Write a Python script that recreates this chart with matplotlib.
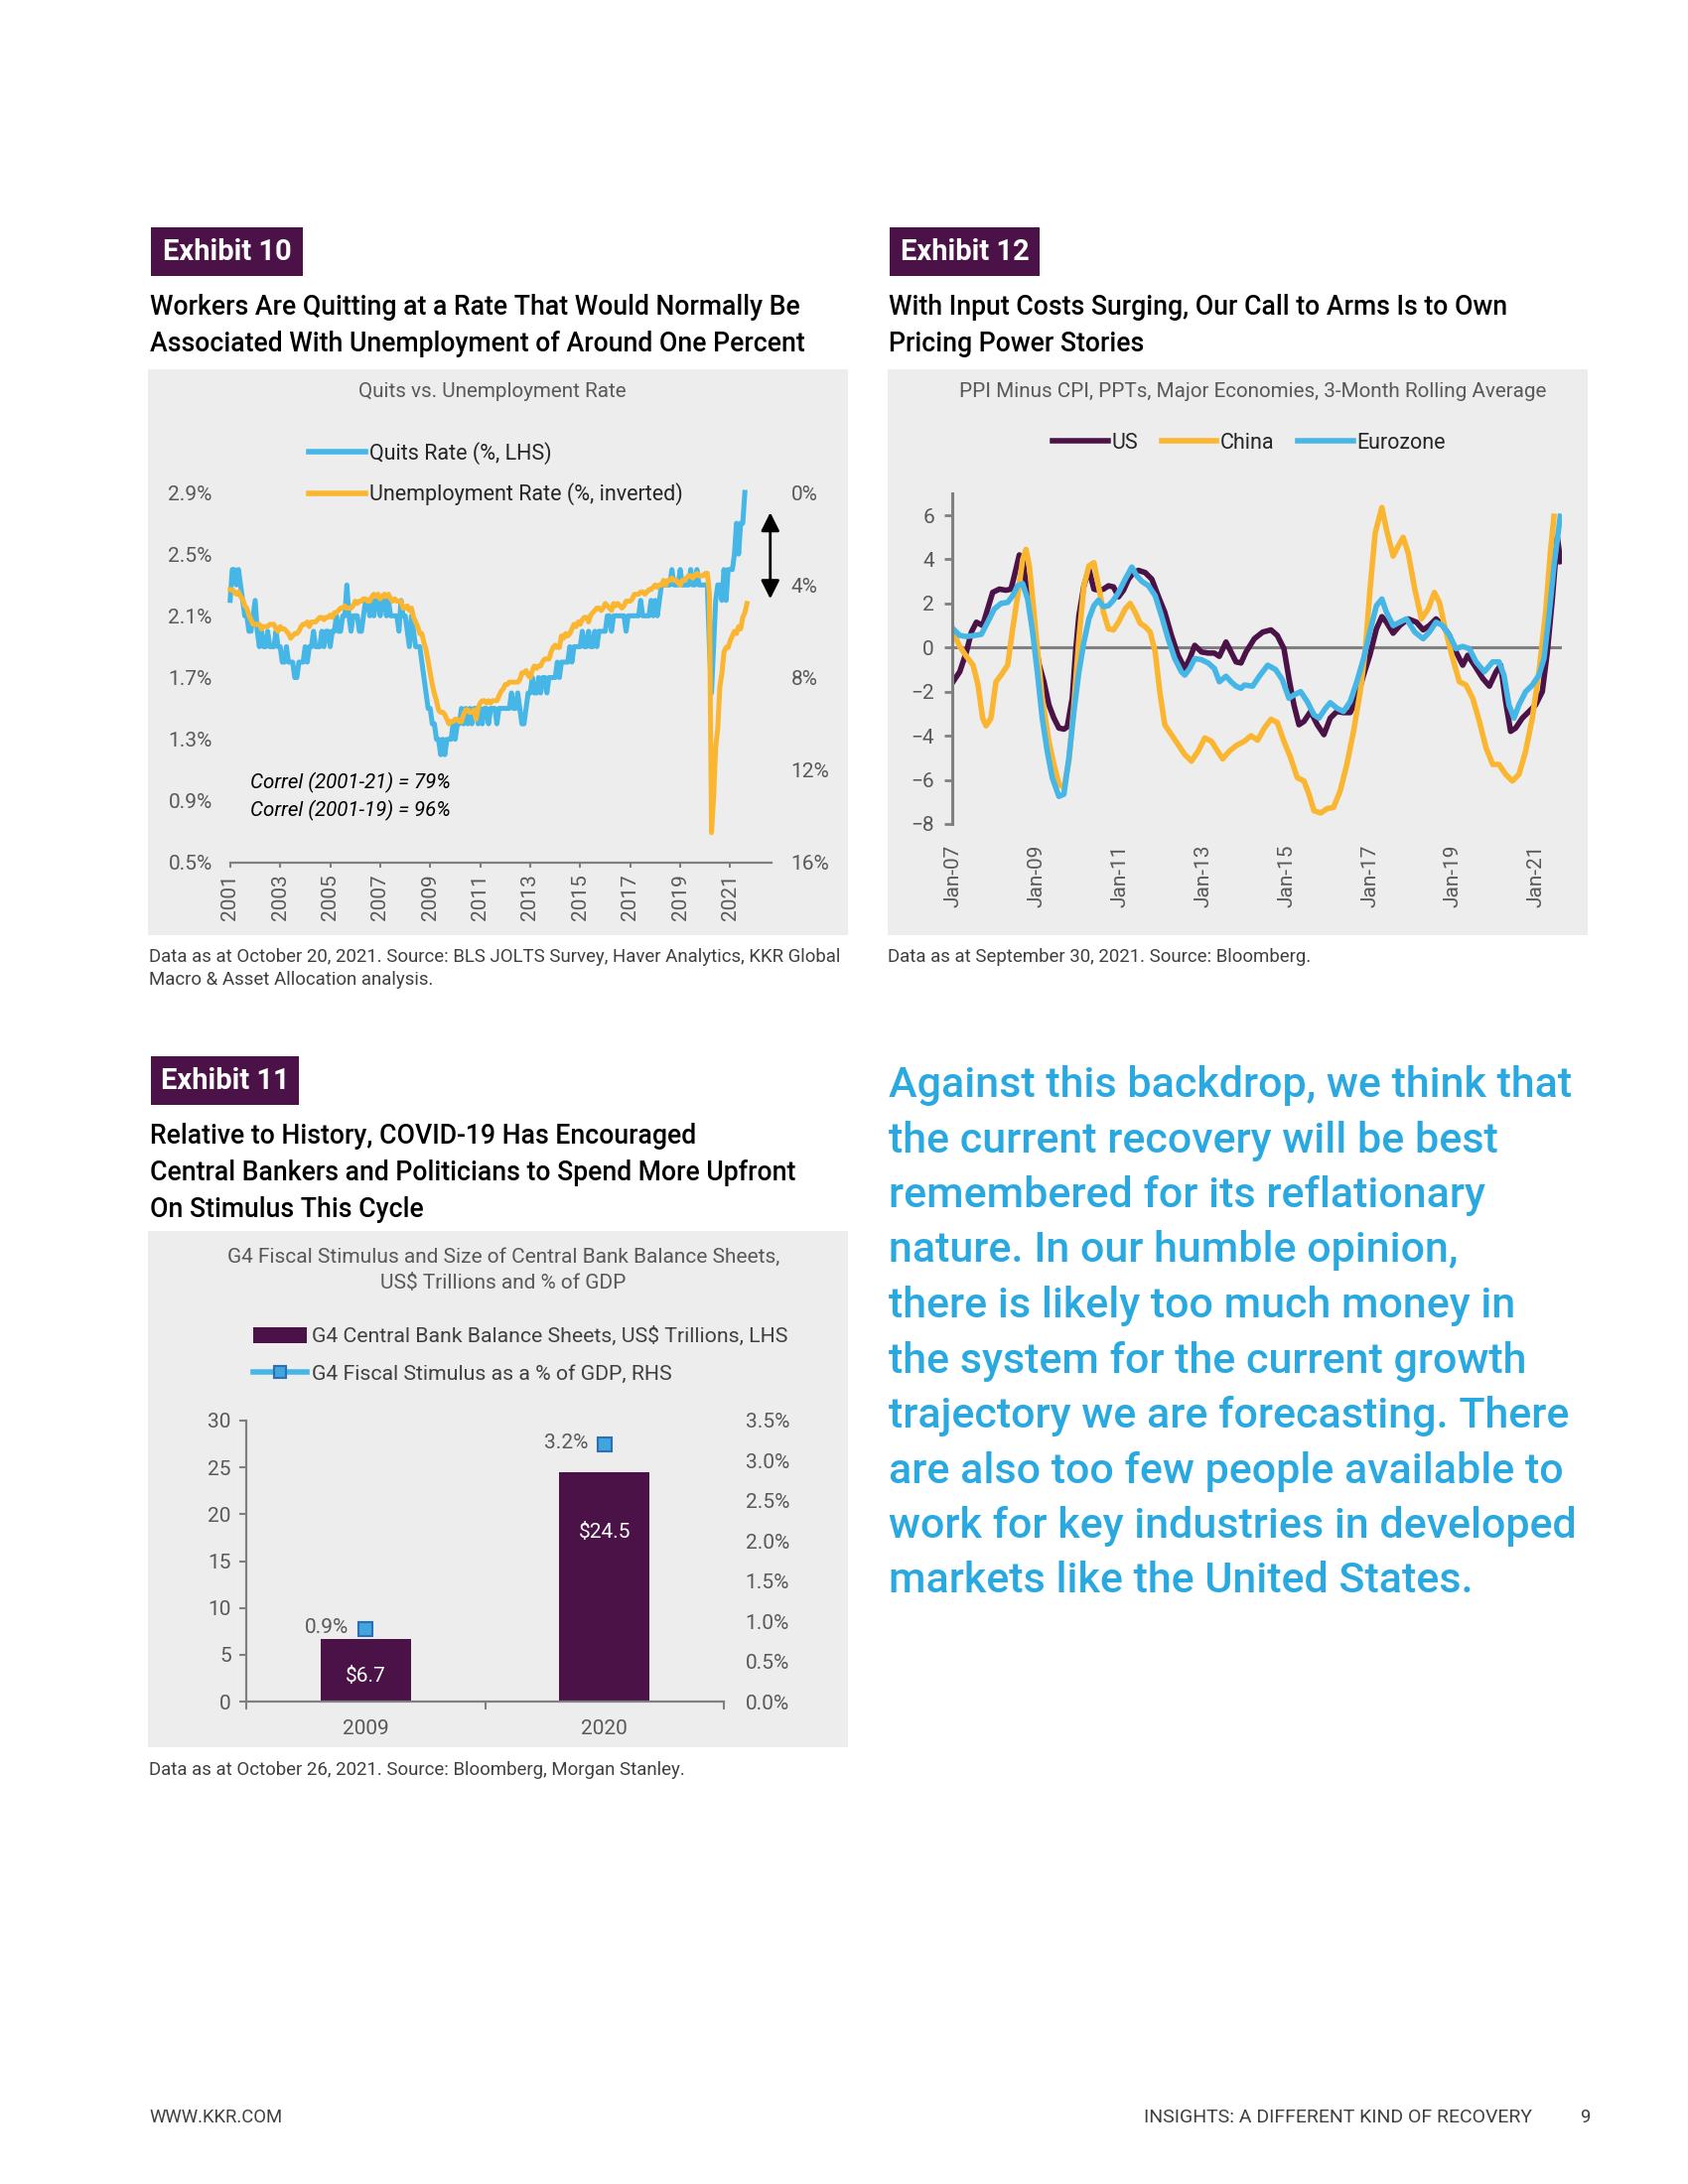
"""KKR Insights page 9: Exhibits 10, 11 and 12."""

import numpy as np
import matplotlib
matplotlib.use("Agg")
import matplotlib.pyplot as plt
from matplotlib.patches import Rectangle, Patch
from matplotlib.lines import Line2D

plt.rcParams["font.family"] = ["Roboto", "DejaVu Sans"]

W, H = 1700, 2200
PURPLE = "#4a1246"
BLUE = "#45b6e6"
ORANGE = "#fbb631"
PANEL = "#ededed"
AXIS_GRAY = "#808080"
TICK_GRAY = "#595959"
TEXT_BLUE = "#2aa9e0"
DARK = "#262626"

# ---------------- Exhibit 10: quits vs unemployment (monthly, Jan-2001 on)
quits_rate = [
    2.2, 2.4, 2.4, 2.3, 2.4, 2.3, 2.2, 2.1, 2.1, 2.0, 2.0, 2.1,
    2.2, 2.0, 1.9, 2.0, 1.9, 1.9, 2.0, 1.9, 1.9, 1.9, 2.0, 1.9,
    1.9, 1.8, 1.8, 1.9, 1.8, 1.8, 1.8, 1.7, 1.7, 1.8, 1.8, 1.8,
    1.9, 1.8, 1.9, 1.9, 2.0, 1.9, 1.9, 1.9, 2.0, 1.9, 2.0, 2.0,
    1.9, 2.0, 2.0, 2.1, 2.0, 2.0, 2.1, 2.1, 2.3, 2.1, 2.0, 2.1,
    2.1, 2.1, 2.0, 2.0, 2.1, 2.2, 2.2, 2.1, 2.2, 2.1, 2.2, 2.2,
    2.1, 2.2, 2.2, 2.1, 2.2, 2.1, 2.1, 2.1, 2.1, 2.0, 2.2, 2.1,
    2.1, 2.0, 1.9, 2.1, 2.0, 1.9, 1.9, 1.9, 1.8, 1.7, 1.6, 1.5,
    1.5, 1.4, 1.4, 1.3, 1.3, 1.2, 1.3, 1.2, 1.3, 1.3, 1.3, 1.4,
    1.3, 1.4, 1.4, 1.5, 1.4, 1.5, 1.4, 1.5, 1.4, 1.5, 1.5, 1.4,
    1.5, 1.4, 1.5, 1.5, 1.4, 1.5, 1.5, 1.5, 1.4, 1.5, 1.5, 1.5,
    1.5, 1.5, 1.5, 1.6, 1.5, 1.5, 1.6, 1.5, 1.4, 1.4, 1.5, 1.6,
    1.6, 1.7, 1.6, 1.6, 1.7, 1.6, 1.7, 1.7, 1.6, 1.7, 1.7, 1.7,
    1.7, 1.8, 1.7, 1.8, 1.8, 1.8, 1.8, 1.9, 1.8, 1.9, 1.9, 1.9,
    1.9, 2.0, 1.9, 1.9, 2.0, 1.9, 1.9, 2.0, 1.9, 2.0, 2.0, 2.0,
    2.0, 2.1, 2.1, 2.0, 2.1, 2.1, 2.1, 2.1, 2.1, 2.1, 2.0, 2.1,
    2.1, 2.1, 2.1, 2.1, 2.1, 2.2, 2.1, 2.1, 2.1, 2.1, 2.2, 2.1,
    2.2, 2.1, 2.2, 2.3, 2.3, 2.3, 2.3, 2.3, 2.4, 2.3, 2.3, 2.3,
    2.4, 2.3, 2.3, 2.3, 2.3, 2.4, 2.3, 2.3, 2.4, 2.3, 2.3, 2.3,
    2.3, 2.3, 1.9, 1.6, 1.9, 2.2, 2.3, 2.3, 2.2, 2.4, 2.2, 2.4,
    2.4, 2.4, 2.5, 2.7, 2.5, 2.7, 2.7, 2.9,
]
unemployment_rate = [
    4.2, 4.2, 4.3, 4.4, 4.3, 4.5, 4.6, 4.9, 5.0, 5.3, 5.5, 5.7,
    5.7, 5.7, 5.7, 5.9, 5.8, 5.8, 5.8, 5.7, 5.7, 5.7, 5.9, 6.0,
    5.8, 5.9, 5.9, 6.0, 6.1, 6.3, 6.2, 6.1, 6.1, 6.0, 5.8, 5.7,
    5.7, 5.6, 5.8, 5.6, 5.6, 5.6, 5.5, 5.4, 5.4, 5.5, 5.4, 5.4,
    5.3, 5.4, 5.2, 5.2, 5.1, 5.0, 5.0, 4.9, 5.0, 5.0, 5.0, 4.9,
    4.7, 4.8, 4.7, 4.7, 4.6, 4.6, 4.7, 4.7, 4.5, 4.4, 4.5, 4.4,
    4.6, 4.5, 4.4, 4.5, 4.4, 4.6, 4.7, 4.6, 4.7, 4.7, 4.7, 5.0,
    5.0, 4.9, 5.1, 5.0, 5.4, 5.6, 5.8, 6.1, 6.1, 6.5, 6.8, 7.3,
    7.8, 8.3, 8.7, 9.0, 9.4, 9.5, 9.5, 9.6, 9.8, 10.0, 9.9, 9.9,
    9.8, 9.8, 9.9, 9.9, 9.6, 9.4, 9.4, 9.5, 9.5, 9.4, 9.8, 9.3,
    9.1, 9.0, 9.0, 9.1, 9.0, 9.1, 9.0, 9.0, 9.0, 8.8, 8.6, 8.5,
    8.3, 8.3, 8.2, 8.2, 8.2, 8.2, 8.2, 8.1, 7.8, 7.8, 7.7, 7.9,
    8.0, 7.7, 7.5, 7.6, 7.5, 7.5, 7.3, 7.2, 7.2, 7.2, 6.9, 6.7,
    6.6, 6.7, 6.7, 6.2, 6.3, 6.1, 6.2, 6.1, 5.9, 5.7, 5.8, 5.6,
    5.7, 5.5, 5.4, 5.4, 5.6, 5.3, 5.2, 5.1, 5.0, 5.0, 5.1, 5.0,
    4.8, 4.9, 5.0, 5.1, 4.8, 4.9, 4.8, 4.9, 5.0, 4.9, 4.7, 4.7,
    4.7, 4.6, 4.4, 4.4, 4.4, 4.3, 4.3, 4.4, 4.3, 4.2, 4.2, 4.1,
    4.0, 4.1, 4.0, 4.0, 3.8, 4.0, 3.8, 3.8, 3.7, 3.8, 3.8, 3.9,
    4.0, 3.8, 3.8, 3.7, 3.6, 3.6, 3.7, 3.6, 3.5, 3.6, 3.6, 3.6,
    3.5, 3.5, 4.4, 14.7, 13.2, 11.0, 10.2, 8.4, 7.8, 6.9, 6.7, 6.7,
    6.4, 6.2, 6.0, 6.1, 5.8, 5.9, 5.4, 5.2, 4.8,
]
quits_ticks = [0.5, 0.9, 1.3, 1.7, 2.1, 2.5, 2.9]
unemp_ticks = [0, 4, 8, 12, 16]
year_ticks = list(range(2001, 2022, 2))

# ---------------- Exhibit 12: PPI minus CPI, ppts (decimal year, value)
us_ppi_cpi = [
    (2007.00, -1.55), (2007.16, -1.1), (2007.32, -0.2), (2007.44, 0.7), (2007.56, 1.15),
    (2007.71, 1.0), (2007.83, 1.75), (2007.95, 2.5), (2008.11, 2.65), (2008.27, 2.6),
    (2008.39, 2.65), (2008.47, 3.25), (2008.59, 4.2), (2008.67, 4.0), (2008.75, 2.95),
    (2008.83, 1.9), (2008.95, 0.4), (2009.07, -0.8), (2009.18, -1.55), (2009.30, -2.6),
    (2009.42, -3.2), (2009.54, -3.65), (2009.66, -3.7), (2009.74, -3.6), (2009.86, -2.3),
    (2009.94, -0.2), (2010.02, 1.45), (2010.14, 2.8), (2010.26, 3.55), (2010.38, 2.65),
    (2010.49, 2.6), (2010.61, 2.65), (2010.73, 2.8), (2010.85, 2.75), (2010.97, 2.3),
    (2011.09, 2.6), (2011.21, 3.1), (2011.33, 3.4), (2011.45, 3.5), (2011.61, 3.4),
    (2011.77, 3.1), (2011.92, 2.35), (2012.08, 1.6), (2012.24, 0.55), (2012.40, -0.35),
    (2012.56, -0.95), (2012.68, -0.5), (2012.80, 0.1), (2012.96, -0.2), (2013.12, -0.25),
    (2013.27, -0.25), (2013.39, -0.4), (2013.55, 0.25), (2013.67, -0.2), (2013.79, -0.65),
    (2013.91, -0.7), (2014.03, -0.2), (2014.23, 0.4), (2014.43, 0.7), (2014.63, 0.8),
    (2014.78, 0.55), (2014.94, -0.05), (2015.06, -1.4), (2015.18, -2.6), (2015.30, -3.5),
    (2015.42, -3.35), (2015.58, -2.9), (2015.74, -3.5), (2015.90, -3.95), (2016.05, -3.2),
    (2016.21, -2.9), (2016.37, -2.95), (2016.53, -2.95), (2016.69, -2.3), (2016.85, -1.25),
    (2017.00, -0.35), (2017.16, 0.85), (2017.29, 1.4), (2017.40, 1.15), (2017.56, 0.65),
    (2017.72, 1.0), (2017.92, 1.3), (2018.12, 1.15), (2018.28, 0.8), (2018.43, 1.0),
    (2018.59, 1.3), (2018.75, 1.0), (2018.91, 0.55), (2019.07, -0.2), (2019.23, -0.8),
    (2019.35, -0.35), (2019.51, -0.8), (2019.71, -1.4), (2019.87, -1.75), (2020.03, -1.1),
    (2020.14, -0.8), (2020.26, -2.45), (2020.38, -3.8), (2020.50, -3.65), (2020.66, -3.2),
    (2020.82, -2.9), (2020.98, -2.6), (2021.14, -2.0), (2021.26, -0.2), (2021.38, 2.2),
    (2021.50, 5.0), (2021.58, 3.9),
]
china_ppi_cpi = [
    (2007.00, 0.7), (2007.16, 0.05), (2007.32, -0.4), (2007.48, -0.8), (2007.60, -1.7),
    (2007.71, -3.2), (2007.79, -3.55), (2007.91, -3.2), (2008.03, -1.55), (2008.15, -1.25),
    (2008.31, -0.8), (2008.43, 0.85), (2008.55, 2.35), (2008.67, 4.0), (2008.75, 4.45),
    (2008.83, 3.7), (2008.91, 2.2), (2009.03, -0.2), (2009.14, -2.3), (2009.30, -4.25),
    (2009.42, -5.3), (2009.54, -6.2), (2009.66, -6.35), (2009.78, -5.15), (2009.90, -2.6),
    (2010.02, 0.4), (2010.14, 2.8), (2010.26, 3.7), (2010.38, 3.85), (2010.49, 2.8),
    (2010.61, 1.6), (2010.73, 0.85), (2010.85, 0.8), (2010.97, 1.15), (2011.13, 1.75),
    (2011.25, 2.0), (2011.37, 1.6), (2011.49, 1.1), (2011.61, 0.95), (2011.73, 0.7),
    (2011.85, -0.2), (2011.96, -2.0), (2012.08, -3.5), (2012.24, -3.95), (2012.40, -4.4),
    (2012.56, -4.85), (2012.72, -5.15), (2012.88, -4.7), (2013.04, -4.1), (2013.20, -4.25),
    (2013.35, -4.7), (2013.47, -5.05), (2013.63, -4.7), (2013.79, -4.45), (2013.99, -4.25),
    (2014.15, -4.0), (2014.31, -4.2), (2014.47, -3.65), (2014.63, -3.25), (2014.78, -3.4),
    (2014.94, -4.25), (2015.10, -5.0), (2015.26, -5.9), (2015.42, -6.05), (2015.54, -6.65),
    (2015.66, -7.4), (2015.82, -7.5), (2015.98, -7.3), (2016.13, -7.25), (2016.29, -6.5),
    (2016.45, -5.3), (2016.61, -3.8), (2016.77, -2.0), (2016.89, -0.2), (2017.00, 2.5),
    (2017.13, 5.2), (2017.29, 6.35), (2017.40, 5.35), (2017.56, 4.15), (2017.68, 4.6),
    (2017.80, 5.0), (2017.92, 4.3), (2018.08, 2.65), (2018.24, 1.3), (2018.40, 1.75),
    (2018.55, 2.5), (2018.67, 2.05), (2018.83, 0.7), (2018.99, -0.5), (2019.15, -1.55),
    (2019.31, -1.7), (2019.47, -2.3), (2019.63, -3.35), (2019.79, -4.55), (2019.95, -5.3),
    (2020.10, -5.3), (2020.26, -5.75), (2020.42, -6.05), (2020.58, -5.75), (2020.74, -4.7),
    (2020.90, -3.2), (2021.06, -1.1), (2021.22, 1.6), (2021.34, 4.45), (2021.42, 5.95),
]
eurozone_ppi_cpi = [
    (2007.00, 0.85), (2007.16, 0.55), (2007.32, 0.5), (2007.52, 0.55), (2007.68, 0.6),
    (2007.83, 1.15), (2007.99, 1.75), (2008.15, 2.0), (2008.31, 2.05), (2008.43, 2.35),
    (2008.55, 2.8), (2008.67, 2.9), (2008.79, 2.2), (2008.91, 0.7), (2009.03, -1.25),
    (2009.14, -3.2), (2009.26, -4.7), (2009.38, -5.9), (2009.54, -6.75), (2009.66, -6.65),
    (2009.78, -5.0), (2009.90, -2.9), (2010.02, -1.1), (2010.14, 0.25), (2010.26, 1.3),
    (2010.38, 1.9), (2010.49, 2.15), (2010.61, 1.85), (2010.73, 1.9), (2010.85, 2.15),
    (2010.97, 2.5), (2011.13, 3.1), (2011.29, 3.65), (2011.41, 3.25), (2011.53, 3.0),
    (2011.69, 2.8), (2011.85, 2.35), (2012.00, 1.45), (2012.16, 0.4), (2012.32, -0.5),
    (2012.48, -1.1), (2012.56, -1.25), (2012.68, -0.95), (2012.80, -0.5), (2012.96, -0.55),
    (2013.12, -0.7), (2013.27, -0.95), (2013.39, -1.55), (2013.55, -1.3), (2013.67, -1.55),
    (2013.79, -1.75), (2013.91, -1.85), (2013.99, -1.7), (2014.19, -1.75), (2014.35, -1.3),
    (2014.55, -0.8), (2014.74, -1.0), (2014.90, -1.45), (2015.06, -2.3), (2015.18, -2.15),
    (2015.34, -2.0), (2015.50, -2.45), (2015.66, -3.05), (2015.78, -3.2), (2015.94, -2.75),
    (2016.05, -2.5), (2016.21, -2.75), (2016.37, -2.9), (2016.53, -2.45), (2016.69, -1.55),
    (2016.85, -0.5), (2017.00, 0.7), (2017.16, 1.9), (2017.29, 2.2), (2017.40, 1.6),
    (2017.56, 1.0), (2017.72, 1.15), (2017.88, 1.3), (2018.08, 0.7), (2018.28, 0.4),
    (2018.43, 0.7), (2018.59, 1.15), (2018.75, 1.0), (2018.91, 0.55), (2019.07, -0.05),
    (2019.23, 0.05), (2019.39, -0.05), (2019.55, -0.65), (2019.75, -1.1), (2019.95, -0.65),
    (2020.10, -0.65), (2020.22, -1.25), (2020.34, -2.6), (2020.46, -3.2), (2020.58, -2.6),
    (2020.74, -2.0), (2020.90, -1.7), (2021.06, -1.25), (2021.18, -0.5), (2021.30, 1.45),
    (2021.42, 3.7), (2021.57, 5.95),
]
ppi_ticks = [-8, -6, -4, -2, 0, 2, 4, 6]
jan_ticks = list(range(2007, 2022, 2))

# ---------------- Exhibit 11: G4 stimulus
stim_years = ["2009", "2020"]
balance_sheets = [6.7, 24.5]          # US$ trillions, LHS
fiscal_stimulus = [0.9, 3.2]          # % of GDP, RHS
bs_ticks = [0, 5, 10, 15, 20, 25, 30]
fs_ticks = [0.0, 0.5, 1.0, 1.5, 2.0, 2.5, 3.0, 3.5]

body_lines = [
    "Against this backdrop, we think that",
    "the current recovery will be best",
    "remembered for its reflationary",
    "nature. In our humble opinion,",
    "there is likely too much money in",
    "the system for the current growth",
    "trajectory we are forecasting. There",
    "are also too few people available to",
    "work for key industries in developed",
    "markets like the United States.",
]


def fxy(x, y):
    return x / W, 1 - y / H


def axes_box(x0, ytop, x1, ybot):
    return [x0 / W, 1 - ybot / H, (x1 - x0) / W, (ybot - ytop) / H]


def page_rect(fig, x0, y0, x1, y1, color):
    fig.add_artist(Rectangle((x0 / W, 1 - y1 / H), (x1 - x0) / W, (y1 - y0) / H,
                             transform=fig.transFigure, facecolor=color,
                             edgecolor="none", zorder=-5))


def exhibit_header(fig, x0, y0, x1, label, title_lines, title_y0):
    page_rect(fig, x0, y0, x1, y0 + 49, PURPLE)
    fig.text(*fxy((x0 + x1) / 2, y0 + 25), label, color="white", fontsize=21,
             fontweight="bold", ha="center", va="center")
    for i, line in enumerate(title_lines):
        fig.text(*fxy(x0 - 1, title_y0 + 36.8 * i), line, color="black",
                 fontsize=19.2, fontweight="medium", ha="left", va="center")


def main():
    fig = plt.figure(figsize=(17, 22), dpi=100)
    fig.patch.set_facecolor("white")

    # ---------- page furniture
    exhibit_header(fig, 152, 229, 305, "Exhibit 10",
                   ["Workers Are Quitting at a Rate That Would Normally Be",
                    "Associated With Unemployment of Around One Percent"], 309.5)
    exhibit_header(fig, 896, 229, 1047, "Exhibit 12",
                   ["With Input Costs Surging, Our Call to Arms Is to Own",
                    "Pricing Power Stories"], 309.5)
    exhibit_header(fig, 152, 1064, 301, "Exhibit 11",
                   ["Relative to History, COVID-19 Has Encouraged",
                    "Central Bankers and Politicians to Spend More Upfront",
                    "On Stimulus This Cycle"], 1145)

    page_rect(fig, 149, 372, 854, 942, PANEL)
    page_rect(fig, 894, 372, 1599, 942, PANEL)
    page_rect(fig, 149, 1240, 854, 1760, PANEL)

    foot_kw = dict(fontsize=13.4, color="#404040", ha="left", va="center")
    fig.text(*fxy(150, 964), "Data as at October 20, 2021. Source: BLS JOLTS Survey, "
             "Haver Analytics, KKR Global", **foot_kw)
    fig.text(*fxy(150, 987), "Macro & Asset Allocation analysis.", **foot_kw)
    fig.text(*fxy(894, 964), "Data as at September 30, 2021. Source: Bloomberg.", **foot_kw)
    fig.text(*fxy(150, 1783), "Data as at October 26, 2021. Source: Bloomberg, "
             "Morgan Stanley.", **foot_kw)

    for i, line in enumerate(body_lines):
        fig.text(*fxy(895, 1093.5 + 55.5 * i), line, fontsize=31, fontweight="medium",
                 color=TEXT_BLUE, ha="left", va="center")

    fig.text(*fxy(150, 2133), "WWW.KKR.COM", fontsize=13.3, color="#404040", va="center")
    fig.text(*fxy(1543, 2133), "INSIGHTS: A DIFFERENT KIND OF RECOVERY", fontsize=14,
             color="#404040", va="center", ha="right")
    fig.text(*fxy(1601, 2133), "9", fontsize=13.3, color="#404040", va="center", ha="right")

    # ---------- Exhibit 10
    fig.text(*fxy(496, 395), "Quits vs. Unemployment Rate", fontsize=14.9,
             color=TICK_GRAY, ha="center", va="center")
    months_q = 2001 + np.arange(len(quits_rate)) / 12
    months_u = 2001 + np.arange(len(unemployment_rate)) / 12

    ax1 = fig.add_axes(axes_box(231.8, 496, 777, 869))
    ax1.set_facecolor("none")
    ax1.plot(months_q, quits_rate, color=BLUE, lw=3.6, clip_on=False)
    ax1.set_xlim(2001, 2022.65)
    ax1.set_ylim(0.5, 2.9)
    for s in ("left", "right", "top"):
        ax1.spines[s].set_visible(False)
    ax1.spines["bottom"].set_color(AXIS_GRAY)
    ax1.spines["bottom"].set_linewidth(1.6)
    ax1.set_xticks(year_ticks)
    ax1.set_xticklabels([str(y) for y in year_ticks], rotation=90)
    ax1.tick_params(axis="x", length=3.6, width=1.5, color=AXIS_GRAY, pad=4.5,
                    labelsize=15, labelcolor=TICK_GRAY)
    ax1.set_yticks(quits_ticks)
    ax1.set_yticklabels([f"{v:.1f}%" for v in quits_ticks])
    ax1.tick_params(axis="y", length=0, pad=13, labelsize=15, labelcolor=TICK_GRAY)
    ax1.text(2001.79, 1.02, "Correl (2001-21) = 79%", style="italic", fontsize=14.8,
             color="black", va="center")
    ax1.text(2001.79, 0.84, "Correl (2001-19) = 96%", style="italic", fontsize=14.8,
             color="black", va="center")
    ax1.annotate("", xy=(2022.6, 2.77), xytext=(2022.6, 2.21),
                 arrowprops=dict(arrowstyle="<|-|>", color="black", lw=2,
                                 mutation_scale=28, shrinkA=0, shrinkB=0),
                 annotation_clip=False)

    ax1r = ax1.twinx()
    ax1r.plot(months_u, unemployment_rate, color=ORANGE, lw=3.6, clip_on=False)
    ax1r.set_ylim(16, 0)
    for s in ax1r.spines.values():
        s.set_visible(False)
    ax1r.set_yticks(unemp_ticks)
    ax1r.set_yticklabels([f"{v}%" for v in unemp_ticks])
    ax1r.tick_params(axis="y", length=0, pad=14, labelsize=15, labelcolor=TICK_GRAY)
    ax1r.legend([Line2D([], [], color=BLUE, lw=4), Line2D([], [], color=ORANGE, lw=4)],
                ["Quits Rate (%, LHS)", "Unemployment Rate (%, inverted)"],
                loc="upper left", bbox_to_anchor=fxy(311, 445), bbox_transform=fig.transFigure,
                frameon=False, fontsize=15.5, handlelength=2.65, handletextpad=0.2,
                labelspacing=0.85, borderpad=0, borderaxespad=0, labelcolor=DARK)

    # ---------- Exhibit 12
    fig.text(*fxy(1262, 394), "PPI Minus CPI, PPTs, Major Economies, 3-Month Rolling Average",
             fontsize=14.9, color=TICK_GRAY, ha="center", va="center")
    ax2 = fig.add_axes(axes_box(959, 496.8, 1573, 830))
    ax2.set_facecolor("none")
    ax2.axhline(0, color=AXIS_GRAY, lw=2.2, zorder=1)
    series = [("US", us_ppi_cpi, PURPLE), ("China", china_ppi_cpi, ORANGE),
              ("Eurozone", eurozone_ppi_cpi, BLUE)]
    for name, data, color in series:
        t, v = zip(*data)
        ax2.plot(t, v, color=color, lw=4, label=name, zorder=2)
    ax2.set_xlim(2006.98, 2021.61)
    ax2.set_ylim(-8, 7)
    for s in ("bottom", "right", "top"):
        ax2.spines[s].set_visible(False)
    ax2.spines["left"].set_color(AXIS_GRAY)
    ax2.spines["left"].set_linewidth(2.2)
    ax2.set_yticks(ppi_ticks)
    ax2.tick_params(axis="y", length=5.5, width=2, color=AXIS_GRAY, pad=7.5,
                    labelsize=15, labelcolor=TICK_GRAY)
    ax2.set_xticks(jan_ticks)
    ax2.set_xticklabels([f"Jan-{y % 100:02d}" for y in jan_ticks], rotation=90)
    ax2.tick_params(axis="x", length=0, pad=15, labelsize=15, labelcolor=TICK_GRAY)
    ax2.legend(loc="upper left", bbox_to_anchor=fxy(1060, 436), bbox_transform=fig.transFigure,
               ncol=3, frameon=False, fontsize=15.5, handlelength=2.6, handletextpad=0.15,
               columnspacing=1.1, borderpad=0, borderaxespad=0, labelcolor=DARK)

    # ---------- Exhibit 11
    fig.text(*fxy(507, 1266), "G4 Fiscal Stimulus and Size of Central Bank Balance Sheets,",
             fontsize=15, color=TICK_GRAY, ha="center", va="center")
    fig.text(*fxy(507, 1293), "US$ Trillions and % of GDP",
             fontsize=15, color=TICK_GRAY, ha="center", va="center")
    ax3 = fig.add_axes(axes_box(248, 1431, 729, 1714))
    ax3.set_facecolor("none")
    xpos = np.arange(len(stim_years))
    ax3.bar(xpos, balance_sheets, width=0.38, color=PURPLE, zorder=2)
    label_heights = [2.75, 18.1]
    for x, v, hgt in zip(xpos, balance_sheets, label_heights):
        ax3.text(x, hgt, f"${v}", color="white", fontsize=15, ha="center", va="center")
    ax3.set_xlim(-0.5, 1.5)
    ax3.set_ylim(0, 30)
    for s in ("right", "top"):
        ax3.spines[s].set_visible(False)
    for s in ("left", "bottom"):
        ax3.spines[s].set_color(AXIS_GRAY)
        ax3.spines[s].set_linewidth(1.6)
    ax3.set_yticks(bs_ticks)
    ax3.tick_params(axis="y", length=5, width=1.5, color=AXIS_GRAY, pad=6,
                    labelsize=15, labelcolor=TICK_GRAY)
    ax3.set_xticks(xpos)
    ax3.set_xticklabels(stim_years)
    ax3.set_xticks([-0.5, 0.5, 1.5], minor=True)
    ax3.tick_params(axis="x", which="major", length=0, pad=13, labelsize=15,
                    labelcolor=TICK_GRAY)
    ax3.tick_params(axis="x", which="minor", length=6, width=1.5, color=AXIS_GRAY)

    ax3r = ax3.twinx()
    ax3r.plot(xpos, fiscal_stimulus, ls="none", marker="s", ms=10, mfc="#3fa6de",
              mec="#2f6db5", mew=1.5, zorder=3)
    for x, v in zip(xpos, fiscal_stimulus):
        ax3r.annotate(f"{v}%", (x, v), xytext=(-12, 1), textcoords="offset points",
                      ha="right", va="center", fontsize=15, color=TICK_GRAY)
    ax3r.set_ylim(0, 3.5)
    for s in ax3r.spines.values():
        s.set_visible(False)
    ax3r.set_yticks(fs_ticks)
    ax3r.set_yticklabels([f"{v:.1f}%" for v in fs_ticks])
    ax3r.tick_params(axis="y", length=0, pad=15.5, labelsize=15, labelcolor=TICK_GRAY)
    ax3r.legend([Patch(facecolor=PURPLE),
                 Line2D([], [], color=BLUE, lw=4, marker="s", ms=9, mfc="#3fa6de",
                        mec="#2f6db5", mew=1.5)],
                ["G4 Central Bank Balance Sheets, US$ Trillions, LHS",
                 "G4 Fiscal Stimulus as a % of GDP, RHS"],
                loc="upper left", bbox_to_anchor=fxy(255, 1336), bbox_transform=fig.transFigure,
                frameon=False, fontsize=15.3, handlelength=2.55, handleheight=0.8,
                handletextpad=0.25, labelspacing=0.85, borderpad=0, borderaxespad=0,
                labelcolor="#404040")

    fig.savefig("out.png", dpi=100, facecolor="white")
    plt.close(fig)


if __name__ == "__main__":
    main()
